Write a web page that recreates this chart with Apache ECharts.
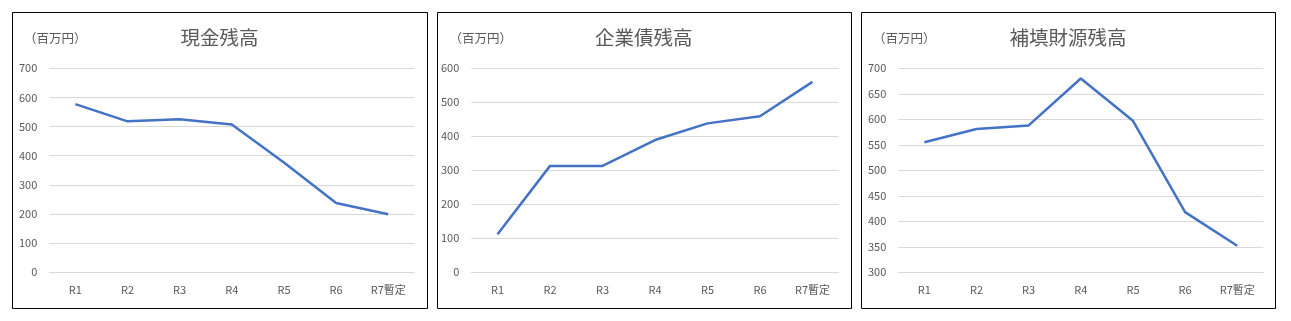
<!DOCTYPE html>
<html>
<head>
<meta charset="utf-8">
<script src="https://cdn.jsdelivr.net/npm/echarts@6/dist/echarts.min.js"></script>
<style>
html,body{margin:0;padding:0;background:#fff;}
#c{width:1291px;height:321px;}
</style>
</head>
<body>
<div id="c"></div>
<script>
const categories = ['R1','R2','R3','R4','R5','R6','R7暫定'];
const cashValues = [577, 518, 525, 507, 377, 238, 199];
const bondValues = [112, 313, 313, 389, 438, 459, 560];
const reserveValues = [555, 581, 588, 680, 597, 418, 352];
const titles = ['現金残高','企業債残高','補填財源残高'];
const unitLabel = '（百万円）';

const FONT = '"Noto Sans CJK JP","Noto Sans",sans-serif';
const GRAY = '#595959';
const LINE = '#4472C4';

const panels = [
  {box:[12.5,12.5,415,296], grid:{left:49.3,top:68.3,width:365,height:204}, y:{min:0,max:700,interval:100}, data:cashValues, titleX:219.5, unitX:24},
  {box:[437.5,12.5,414,296], grid:{left:471.3,top:68.3,width:367.4,height:204}, y:{min:0,max:600,interval:100}, data:bondValues, titleX:643.7, unitX:449.5},
  {box:[861.5,12.5,414,296], grid:{left:898.3,top:68.3,width:365,height:204}, y:{min:300,max:700,interval:50}, data:reserveValues, titleX:1068, unitX:873}
];

const chart = echarts.init(document.getElementById('c'));
const graphic = [];
panels.forEach((p,i)=>{
  graphic.push({type:'rect', shape:{x:p.box[0],y:p.box[1],width:p.box[2],height:p.box[3]}, style:{fill:'none',stroke:'#000',lineWidth:1}, z:-1});
  graphic.push({type:'text', x:p.titleX, y:38, style:{text:titles[i], font:'19.5px '+FONT, fill:GRAY, textAlign:'center', textVerticalAlign:'middle'}});
  graphic.push({type:'text', x:p.unitX, y:38, style:{text:unitLabel, font:'12.5px '+FONT, fill:GRAY, textAlign:'left', textVerticalAlign:'middle'}});
});

const option = {
  animation:false,
  backgroundColor:'#fff',
  graphic: graphic,
  grid: panels.map(p=>Object.assign({containLabel:false}, p.grid)),
  xAxis: panels.map((p,i)=>({
    type:'category', gridIndex:i, data:categories, boundaryGap:true,
    axisLine:{show:true, lineStyle:{color:'#d9d9d9'}},
    axisTick:{show:false},
    axisLabel:{color:GRAY, fontSize:11, fontFamily:FONT, margin:12, interval:0}
  })),
  yAxis: panels.map((p,i)=>({
    type:'value', gridIndex:i, min:p.y.min, max:p.y.max, interval:p.y.interval,
    axisLine:{show:false}, axisTick:{show:false},
    splitLine:{lineStyle:{color:'#d9d9d9'}},
    axisLabel:{color:GRAY, fontSize:11, fontFamily:FONT, margin:12}
  })),
  series: panels.map((p,i)=>({
    type:'line', xAxisIndex:i, yAxisIndex:i, data:p.data,
    symbol:'none', lineStyle:{color:LINE, width:2.5}
  }))
};
chart.setOption(option);
</script>
</body>
</html>
